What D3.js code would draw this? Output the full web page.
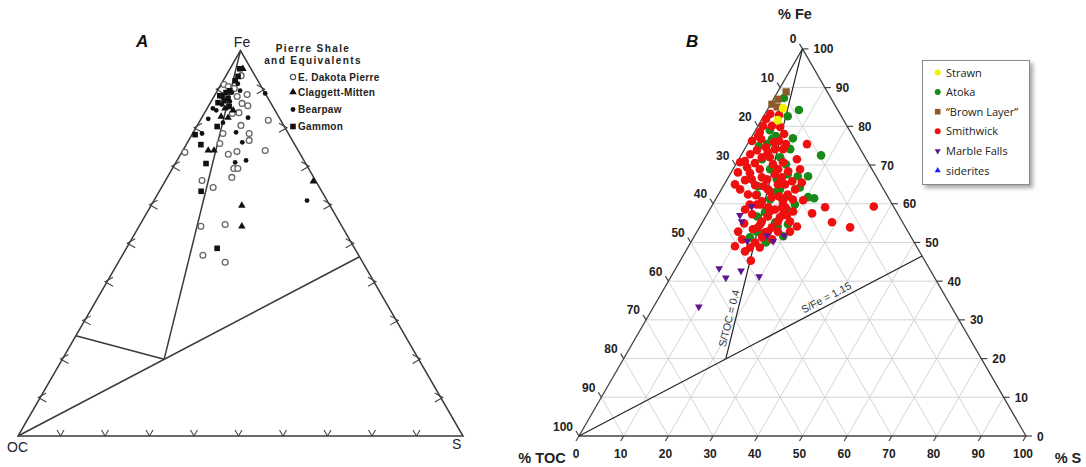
<!DOCTYPE html>
<html>
<head>
<meta charset="utf-8">
<script src="https://cdn.jsdelivr.net/npm/d3@7"></script>
<style>
  html, body { margin: 0; padding: 0; background: #fff; }
  svg { display: block; font-family: "Liberation Sans", Arial, sans-serif; }
</style>
</head>
<body>
<svg id="chart" width="1086" height="467"></svg>
<script>
// ---------- Data (each point is [% S, % Fe]; organic carbon is the remainder) ----------

// Panel A: Pierre Shale and equivalents
const dakotaPierre = [
  [3.4,93.5],[0.7,91.2],[1.9,90.7],[3.5,90.2],[5.2,88.1],[7.2,88.6],[7.2,86.3],[8.8,85.7],
  [15.3,81.9],[12.7,78.5],[13.6,76.7],[6.8,78.5],[7.4,75.9],[0.7,73.6],[10.7,73.1],[12.3,73.8],
  [13.8,69.4],[14.7,69.4],[14.5,67.1],[11.6,64.5],[18.5,74.1],[13.9,54.4],[19.1,54.9],[18.1,46.9],
  [24.0,45.1],[8.2,66.3],[9.8,80.6],[6.3,83.7],[7.7,83.9]
];
const claggettMitten = [
  [2.9,95.3],[5.7,74.1],[7.0,74.1],[33.3,66.1],[20.4,59.8],[23.1,54.4],[4.2,82.9],[5.9,82.6],
  [6.1,84.5],[4.0,85.0]
];
const bearpaw = [
  [11.1,88.9],[10.4,82.6],[2.1,78.5],[9.6,78.8],[12.3,76.2],[13.3,71.0],[15.5,71.5],[34.4,61.1],
  [1.3,85.0],[2.8,86.0],[4.2,86.8],[3.7,91.4],[5.4,81.3],[5.1,89.6],[1.6,82.3],[2.3,84.5],[3.5,89.1]
];
const gammon = [
  [2.8,93.3],[2.7,92.2],[2.2,89.1],[3.4,87.6],[4.6,80.3],[0.7,78.2],[3.3,75.6],[6.9,70.7],
  [9.4,63.5],[20.4,48.7],[2.2,95.3],[1.7,88.3],[2.8,89.6],[1.7,86.5],[1.2,88.3],[2.8,87.0],[4.7,85.5]
];

// Panel B: Barnett-area units
const strawn = [[3.3,84.7],[3.7,81.6]];
const brownLayer = [[1.9,88.9],[1.0,87.0],[0.3,85.7],[1.8,85.0]];
const atoka = [
  [2.2,87.3],[7.1,84.2],[5.4,82.6],[9.4,76.9],[17.9,72.5],[3.2,79.0],[5.3,77.5],[4.4,75.4],
  [2.8,74.9],[9.0,72.0],[11.2,70.2],[8.3,68.9],[15.4,67.1],[17.7,67.1],[11.1,66.3],[7.8,64.5],
  [13.1,63.7],[20.4,61.7],[21.9,61.4],[8.6,62.4],[12.7,63.2],[12.7,57.8],[16.3,55.2],[11.5,56.7],
  [13.4,52.8],[17.4,54.1],[10.2,74.1],[18.4,59.8],[17.3,58.5],[4.8,76.7],[5.2,71.5],[12.9,67.6],
  [12.2,61.1],[19.9,51.6],[12.6,51.3],[16.8,50.0],[17.3,64.2],[19.4,54.7]
];
const smithwick = [
  [1.2,83.2],[3.3,82.9],[0.9,81.9],[1.1,80.1],[3.1,80.1],[5.1,79.8],[1.2,78.5],[0.6,76.2],[2.4,76.7],[6.7,76.2],
  [2.9,73.8],[1.9,72.8],[5.6,73.3],[1.6,71.0],[4.1,70.5],[8.3,70.2],[6.0,68.9],[1.5,68.1],[4.3,67.9],[8.9,66.3],
  [4.1,66.1],[7.0,64.8],[10.3,70.7],[12.6,68.4],[14.8,65.8],[17.1,65.5],[13.6,65.0],[10.4,63.7],[15.5,62.4],[19.7,60.9],
  [17.3,61.1],[15.3,60.6],[14.6,58.5],[18.9,58.0],[18.0,57.0],[13.9,56.7],[13.2,55.4],[16.8,55.4],[16.2,53.9],[15.3,52.6],
  [10.6,60.6],[12.3,61.7],[15.6,61.9],[16.6,59.1],[17.0,57.3],[19.5,55.4],[13.2,54.7],[15.9,52.8],[18.1,52.8],[10.6,59.8],
  [9.2,52.8],[11.1,50.8],[10.4,49.0],[13.9,48.7],[15.8,45.3],[14.4,50.0],[15.3,51.3],[13.3,75.4],[36.3,59.3],[23.4,57.5],
  [25.5,59.1],[29.0,55.2],[33.7,53.9],[4.5,74.6],[6.8,74.1],[2.9,69.4],[7.5,66.8],[10.0,67.6],[4.2,63.7],[6.6,62.4],
  [9.9,59.8],[7.9,58.5],[10.1,57.3],[12.0,65.0],[16.5,63.7],[15.9,59.1],[17.8,50.8],[9.5,54.9],[20.8,52.8],[6.7,72.0],
  [1.3,77.5],[8.6,74.1],[13.0,71.5],[2.4,65.0],[8.5,62.2],[13.8,61.9],[12.8,59.1],[21.7,54.1],[12.2,53.4],[13.3,47.7],
  [6.9,78.0],[9.1,64.5],[0.7,70.7],[15.0,68.9],[16.1,48.7],[5.7,75.9],[8.6,75.4],[4.9,72.0],[10.1,68.9],[5.5,66.3],
  [11.1,63.2],[8.3,59.8],[16.7,56.5],[13.1,53.9],[13.7,58.0],[12.0,66.8]
];
const marbleFalls = [
  [9.0,59.3],[7.5,57.0],[8.7,55.4],[12.5,50.3],[16.2,51.8],[18.3,50.3],[20.0,51.8],[9.7,43.3],
  [12.4,40.9],[14.9,42.7],[19.7,41.2],[10.1,33.4]
];
const siderites = [];

// Axis tick values and reference ratios
const tickValues = [0,10,20,30,40,50,60,70,80,90,100];
const gridValues = [10,20,30,40,50,60,70,80,90];
const S_TOC_RATIO = 0.4;
const S_FE_RATIO = 1.15;
const panelAKnee = [0, 26]; // left-edge end of the short boundary in panel A

const legendATitle = ["Pierre Shale", "and Equivalents"];
const legendANames = ["E. Dakota Pierre", "Claggett-Mitten", "Bearpaw", "Gammon"];
const legendBNames = ["Strawn", "Atoka", "\u201cBrown Layer\u201d", "Smithwick", "Marble Falls", "siderites"];

// ---------- Geometry ----------
const svg = d3.select("#chart");
const H3 = Math.sqrt(3) / 2;

function makePanel(left, right, bottom) {
  const side = right - left;
  return {
    x: d3.scaleLinear().domain([0, 100]).range([left, right]),
    y: d3.scaleLinear().domain([0, 100]).range([bottom, bottom - side * H3])
  };
}
const pA = makePanel(18, 463, 436);
const pB = makePanel(579, 1026, 436);
const proj = (p, s, fe) => [p.x(s + fe / 2), p.y(fe)];
const line = d3.line();

// intersection of S/TOC and S/Fe ratio lines
const sKnee = 100 / (1 + 1 / S_TOC_RATIO + 1 / S_FE_RATIO);
const knee = [sKnee, sKnee / S_FE_RATIO];
const feEdge = 100 / (1 + S_FE_RATIO);
const sFeEnd = [100 - feEdge, feEdge];

// ---------- Panel B grid ----------
const gridB = svg.append("g").attr("fill", "none").attr("stroke", "#d4d4d4").attr("stroke-width", 1);
gridValues.forEach(k => {
  [[[0, k], [100 - k, k]], [[k, 0], [k, 100 - k]], [[100 - k, 0], [0, 100 - k]]].forEach(seg => {
    gridB.append("path").attr("d", line(seg.map(d => proj(pB, d[0], d[1]))));
  });
});

// ---------- Triangles ----------
[pA, pB].forEach((p, i) => {
  svg.append("path")
    .attr("d", line([[0, 0], [100, 0], [0, 100]].map(d => proj(p, d[0], d[1]))) + "Z")
    .attr("fill", "none")
    .attr("stroke", i === 0 ? "#3a3a3a" : "#444")
    .attr("stroke-width", i === 0 ? 1.5 : 1.3);
});

// ---------- Panel B ticks and labels ----------
const axB = svg.append("g").attr("stroke", "#444").attr("stroke-width", 1.2);
const lblB = svg.append("g").attr("font-size", 12).attr("font-weight", "bold").attr("fill", "#222");
tickValues.forEach(k => {
  // % Fe on the right edge
  let [x, y] = proj(pB, 100 - k, k);
  axB.append("line").attr("x1", x).attr("y1", y).attr("x2", x + 6).attr("y2", y);
  lblB.append("text").attr("x", x + 11).attr("y", y + 4.5).text(k);
  // % TOC on the left edge
  [x, y] = proj(pB, 0, 100 - k);
  axB.append("line").attr("x1", x).attr("y1", y).attr("x2", x - 3).attr("y2", y - 5);
  lblB.append("text").attr("x", x - 6).attr("y", y - 5.5).attr("text-anchor", "end").text(k);
  // % S on the base
  [x, y] = proj(pB, k, 0);
  axB.append("line").attr("x1", x).attr("y1", y).attr("x2", x - 3).attr("y2", y + 5);
  lblB.append("text").attr("x", x - 3).attr("y", y + 21.5).attr("text-anchor", "middle").text(k);
});

const titles = svg.append("g").attr("font-weight", "bold").attr("fill", "#222").attr("font-size", 14.5);
titles.append("text").attr("x", 795).attr("y", 19).attr("text-anchor", "middle").text("% Fe");
titles.append("text").attr("x", 542).attr("y", 463).attr("text-anchor", "middle").text("% TOC");
titles.append("text").attr("x", 1068).attr("y", 463).attr("text-anchor", "middle").text("% S");

// ---------- Ratio lines ----------
const refLines = [
  { p: pA, pts: [[0, 100], knee] },
  { p: pA, pts: [[0, 0], sFeEnd] },
  { p: pA, pts: [panelAKnee, knee] },
  { p: pB, pts: [[0, 100], knee] },
  { p: pB, pts: [[0, 0], sFeEnd] }
];
refLines.forEach(r => {
  svg.append("path")
    .attr("d", line(r.pts.map(d => proj(r.p, d[0], d[1]))))
    .attr("fill", "none")
    .attr("stroke", r.p === pA ? "#3a3a3a" : "#222")
    .attr("stroke-width", r.p === pA ? 1.5 : 1.2);
});

function alongLabel(p, a, b, at, text, dy) {
  const [ax, ay] = proj(p, a[0], a[1]);
  const [bx, by] = proj(p, b[0], b[1]);
  const ang = Math.atan2(by - ay, bx - ax) * 180 / Math.PI;
  const [x, y] = proj(p, at[0], at[1]);
  svg.append("text")
    .attr("transform", `translate(${x},${y}) rotate(${ang})`)
    .attr("y", dy)
    .attr("text-anchor", "middle")
    .attr("font-size", 10.5)
    .attr("fill", "#333")
    .text(text);
}
{
  const fe1 = 30, s1 = S_TOC_RATIO * (100 - fe1) / (1 + S_TOC_RATIO);
  alongLabel(pB, knee, [0, 100], [s1, fe1], "S/TOC = 0.4", -3);
  const fe2 = 34;
  alongLabel(pB, [0, 0], sFeEnd, [fe2 * S_FE_RATIO, fe2], "S/Fe = 1.15", -4);
}

// ---------- Panel A edge chevrons ----------
const chev = svg.append("g").attr("fill", "none").attr("stroke", "#444").attr("stroke-width", 1.1);
gridValues.forEach(k => {
  let [x, y] = proj(pA, k, 0);
  x -= 2;
  chev.append("path").attr("d", `M${x - 3.5},${y - 6}L${x},${y}L${x + 3.5},${y - 6}`);
  [x, y] = proj(pA, 0, k);
  chev.append("path").attr("d", `M${x + 6},${y - 4.5}L${x - 2},${y}L${x + 6},${y + 4.5}`);
  [x, y] = proj(pA, 100 - k, k);
  chev.append("path").attr("d", `M${x - 6},${y - 4.5}L${x + 2},${y}L${x - 6},${y + 4.5}`);
});

// ---------- Panel A labels ----------
const lblA = svg.append("g").attr("fill", "#222").attr("font-size", 14);
lblA.append("text").attr("x", 242).attr("y", 47).attr("text-anchor", "middle").text("Fe");
lblA.append("text").attr("x", 7).attr("y", 452).text("OC");
lblA.append("text").attr("x", 452).attr("y", 449).text("S");

svg.append("text").attr("x", 136).attr("y", 47).attr("font-size", 17).attr("font-weight", "bold")
  .attr("font-style", "italic").attr("fill", "#111").text("A");
svg.append("text").attr("x", 686).attr("y", 47).attr("font-size", 17).attr("font-weight", "bold")
  .attr("font-style", "italic").attr("fill", "#111").text("B");

// ---------- Panel A markers ----------
const sym = (type, size) => d3.symbol().type(type).size(size)();
const ptsA = svg.append("g");
function drawA(data, kind) {
  data.forEach(d => {
    const [x, y] = proj(pA, d[0], d[1]);
    if (kind === "open") {
      ptsA.append("circle").attr("cx", x).attr("cy", y).attr("r", 2.9)
        .attr("fill", "#fff").attr("stroke", "#666").attr("stroke-width", 1.3);
    } else if (kind === "dot") {
      ptsA.append("circle").attr("cx", x).attr("cy", y).attr("r", 2.4).attr("fill", "#111");
    } else if (kind === "square") {
      ptsA.append("rect").attr("x", x - 2.8).attr("y", y - 2.8).attr("width", 5.6).attr("height", 5.6).attr("fill", "#111");
    } else {
      ptsA.append("path").attr("d", sym(d3.symbolTriangle, 24)).attr("transform", `translate(${x},${y})`).attr("fill", "#111");
    }
  });
}
drawA(dakotaPierre, "open");
drawA(gammon, "square");
drawA(bearpaw, "dot");
drawA(claggettMitten, "tri");

// Panel A legend
const legA = svg.append("g").attr("fill", "#222").attr("font-weight", "bold");
legendATitle.forEach((t, i) => {
  legA.append("text").attr("x", 313).attr("y", 52 + i * 12).attr("text-anchor", "middle")
    .attr("font-size", 10).attr("letter-spacing", 1.4).text(t);
});
const legAY = [77, 92, 109.5, 126.5];
const legAKinds = ["open", "tri", "dot", "square"];
legendANames.forEach((t, i) => {
  const y = legAY[i], x = 293;
  const k = legAKinds[i];
  if (k === "open") legA.append("circle").attr("cx", x).attr("cy", y).attr("r", 2.6).attr("fill", "#fff").attr("stroke", "#555").attr("stroke-width", 1.2);
  if (k === "dot") legA.append("circle").attr("cx", x).attr("cy", y).attr("r", 2.4).attr("fill", "#111");
  if (k === "square") legA.append("rect").attr("x", x - 2.8).attr("y", y - 2.8).attr("width", 5.6).attr("height", 5.6).attr("fill", "#111");
  if (k === "tri") legA.append("path").attr("d", sym(d3.symbolTriangle, 24)).attr("transform", `translate(${x},${y})`).attr("fill", "#111");
  legA.append("text").attr("x", 298).attr("y", y + 3.8).attr("font-size", 10).attr("letter-spacing", 0.3).text(t);
});

// ---------- Panel B markers ----------
const colors = {
  strawn: "#f2f200", atoka: "#178a17", brown: "#8b5a2b",
  smithwick: "#ee0f0f", marble: "#5e1690", siderite: "#1a1aff"
};
const ptsB = svg.append("g");
function drawB(data, color, shape) {
  data.forEach(d => {
    const [x, y] = proj(pB, d[0], d[1]);
    if (shape === "circle") {
      ptsB.append("circle").attr("cx", x).attr("cy", y).attr("r", 4.3).attr("fill", color);
    } else if (shape === "square") {
      ptsB.append("rect").attr("x", x - 3.6).attr("y", y - 3.6).attr("width", 7.2).attr("height", 7.2).attr("fill", color);
    } else if (shape === "down") {
      ptsB.append("path").attr("d", sym(d3.symbolTriangle, 26)).attr("transform", `translate(${x},${y}) rotate(180)`).attr("fill", color);
    } else {
      ptsB.append("path").attr("d", sym(d3.symbolTriangle, 26)).attr("transform", `translate(${x},${y})`).attr("fill", color);
    }
  });
}
drawB(atoka, colors.atoka, "circle");
drawB(smithwick, colors.smithwick, "circle");
drawB(brownLayer, colors.brown, "square");
drawB(strawn, colors.strawn, "circle");
drawB(marbleFalls, colors.marble, "down");
drawB(siderites, colors.siderite, "up");

// Panel B legend
const defs = svg.append("defs");
const f = defs.append("filter").attr("id", "legShadow").attr("x", "-10%").attr("y", "-10%").attr("width", "130%").attr("height", "130%");
f.append("feDropShadow").attr("dx", 3).attr("dy", 3).attr("stdDeviation", 2).attr("flood-color", "#000").attr("flood-opacity", 0.35);

const legB = svg.append("g");
legB.append("rect").attr("x", 922.5).attr("y", 60.5).attr("width", 107).attr("height", 124)
  .attr("fill", "#fff").attr("stroke", "#8a8a8a").attr("stroke-width", 1).attr("filter", "url(#legShadow)");
const legBStyle = [
  [colors.strawn, "circle"], [colors.atoka, "circle"], [colors.brown, "square"],
  [colors.smithwick, "circle"], [colors.marble, "down"], [colors.siderite, "up"]
];
legendBNames.forEach((t, i) => {
  const y = 72.5 + i * 19.6, x = 937.7;
  const [c, s] = legBStyle[i];
  if (s === "circle") legB.append("circle").attr("cx", x).attr("cy", y).attr("r", 3).attr("fill", c);
  if (s === "square") legB.append("rect").attr("x", x - 2.8).attr("y", y - 2.8).attr("width", 5.6).attr("height", 5.6).attr("fill", c);
  if (s === "down") legB.append("path").attr("d", sym(d3.symbolTriangle, 16)).attr("transform", `translate(${x},${y}) rotate(180)`).attr("fill", c);
  if (s === "up") legB.append("path").attr("d", sym(d3.symbolTriangle, 16)).attr("transform", `translate(${x},${y})`).attr("fill", c);
  legB.append("text").attr("x", 946).attr("y", y + 4).attr("font-family", "'Open Sans', sans-serif")
    .attr("font-size", 11).attr("fill", "#222").text(t);
});
</script>
</body>
</html>
